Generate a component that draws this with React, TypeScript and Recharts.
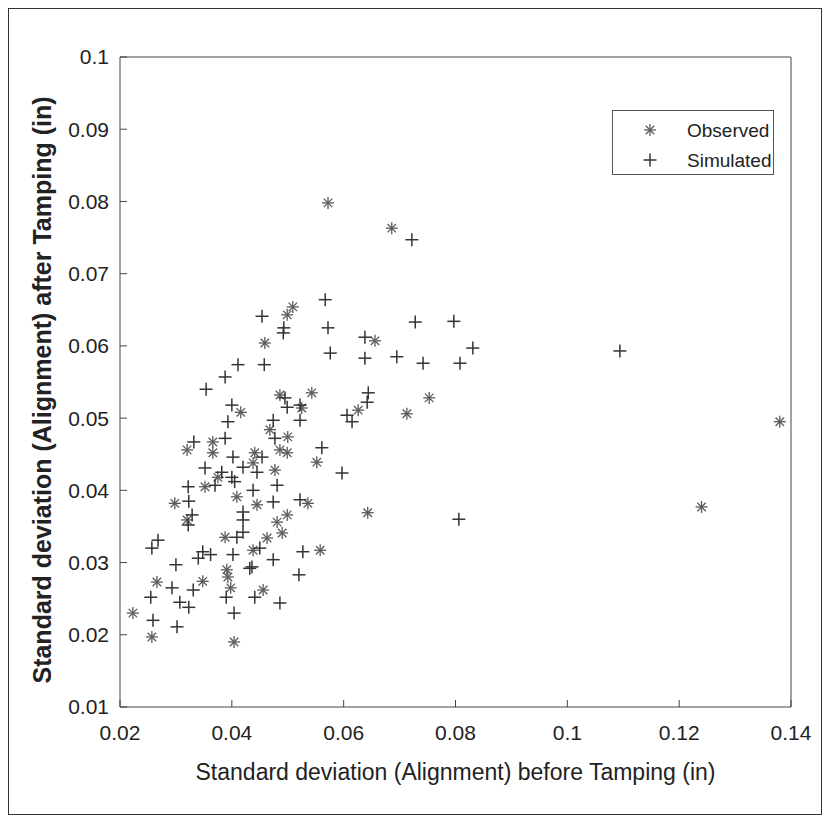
import React from 'react';
import { ScatterChart, Scatter, XAxis, YAxis } from 'recharts';

const observedX = [0.0223, 0.0257, 0.0266, 0.0298, 0.032, 0.032, 0.0348, 0.0352, 0.0366, 0.0366, 0.0375, 0.0388, 0.0391, 0.0393, 0.0398, 0.0404, 0.0409, 0.0416, 0.0438, 0.0463, 0.0456, 0.0445, 0.0441, 0.0438, 0.0477, 0.0468, 0.05, 0.0486, 0.0499, 0.0486, 0.0525, 0.0543, 0.0552, 0.0459, 0.0499, 0.0509, 0.0572, 0.0686, 0.0656, 0.0626, 0.0713, 0.0753, 0.0643, 0.0536, 0.0499, 0.0481, 0.049, 0.0558, 0.124, 0.138];
const observedY = [0.023, 0.0197, 0.0273, 0.0382, 0.0359, 0.0456, 0.0274, 0.0405, 0.0467, 0.0452, 0.0418, 0.0335, 0.029, 0.028, 0.0265, 0.019, 0.0391, 0.0508, 0.0317, 0.0334, 0.0262, 0.038, 0.0452, 0.0438, 0.0428, 0.0484, 0.0474, 0.0456, 0.0452, 0.0532, 0.0514, 0.0535, 0.0439, 0.0604, 0.0643, 0.0654, 0.0798, 0.0763, 0.0607, 0.0511, 0.0506, 0.0528, 0.0369, 0.0382, 0.0366, 0.0356, 0.0341, 0.0317, 0.0377, 0.0495];

const simulatedX = [0.0255, 0.0259, 0.0257, 0.0268, 0.0293, 0.03, 0.0302, 0.0307, 0.0323, 0.0331, 0.034, 0.0348, 0.0362, 0.0323, 0.0329, 0.0322, 0.0322, 0.0332, 0.0352, 0.0354, 0.037, 0.0382, 0.0388, 0.0388, 0.0393, 0.04, 0.04, 0.0405, 0.0402, 0.0411, 0.039, 0.0404, 0.0402, 0.0409, 0.042, 0.042, 0.042, 0.0436, 0.045, 0.0441, 0.0486, 0.0474, 0.0432, 0.0474, 0.0522, 0.0527, 0.052, 0.0438, 0.0445, 0.042, 0.0454, 0.0481, 0.0477, 0.0474, 0.0499, 0.0495, 0.0522, 0.0522, 0.0561, 0.0597, 0.0458, 0.0454, 0.0493, 0.0492, 0.0567, 0.0572, 0.0576, 0.0638, 0.0638, 0.0695, 0.0742, 0.0808, 0.0831, 0.0728, 0.0797, 0.0722, 0.1094, 0.0806, 0.0606, 0.0615, 0.0644, 0.0642];
const simulatedY = [0.0252, 0.022, 0.032, 0.0331, 0.0265, 0.0297, 0.0211, 0.0245, 0.0238, 0.0262, 0.0306, 0.0315, 0.0311, 0.0385, 0.0366, 0.0352, 0.0405, 0.0467, 0.0431, 0.054, 0.0407, 0.0425, 0.0472, 0.0557, 0.0495, 0.0518, 0.0418, 0.0412, 0.0446, 0.0574, 0.0252, 0.023, 0.0311, 0.0335, 0.0342, 0.0359, 0.037, 0.0294, 0.032, 0.0252, 0.0244, 0.0304, 0.0292, 0.0384, 0.0387, 0.0315, 0.0283, 0.04, 0.0425, 0.0432, 0.0446, 0.0407, 0.0472, 0.0497, 0.0515, 0.0528, 0.0518, 0.0497, 0.0459, 0.0424, 0.0574, 0.0641, 0.0625, 0.0618, 0.0664, 0.0625, 0.059, 0.0612, 0.0583, 0.0585, 0.0576, 0.0576, 0.0597, 0.0633, 0.0634, 0.0747, 0.0593, 0.036, 0.0504, 0.0495, 0.0535, 0.0522];

const xTicks = [0.02, 0.04, 0.06, 0.08, 0.1, 0.12, 0.14];
const yTicks = [0.01, 0.02, 0.03, 0.04, 0.05, 0.06, 0.07, 0.08, 0.09, 0.1];

const seriesNames = ['Observed', 'Simulated'];
const xTitle = 'Standard deviation (Alignment) before Tamping (in)';
const yTitle = 'Standard deviation (Alignment) after Tamping (in)';

const observedData = observedX.map((x, i) => ({ x, y: observedY[i] }));
const simulatedData = simulatedX.map((x, i) => ({ x, y: simulatedY[i] }));

const FONT = '"Liberation Sans", Arial, sans-serif';
const AXIS_COLOR = '#444';

const fmt = (v: number) => String(+v.toFixed(2));

const AsteriskShape = (props: any) => {
  const { cx, cy } = props;
  if (cx == null || cy == null) return <g />;
  const r = 6;
  const d = r * 0.707;
  return (
    <g stroke="#5a5a5a" strokeWidth={1.3}>
      <line x1={cx - r} y1={cy} x2={cx + r} y2={cy} />
      <line x1={cx} y1={cy - r} x2={cx} y2={cy + r} />
      <line x1={cx - d} y1={cy - d} x2={cx + d} y2={cy + d} />
      <line x1={cx - d} y1={cy + d} x2={cx + d} y2={cy - d} />
    </g>
  );
};

const PlusShape = (props: any) => {
  const { cx, cy } = props;
  if (cx == null || cy == null) return <g />;
  const r = 6.5;
  return (
    <g stroke="#333" strokeWidth={1.5}>
      <line x1={cx - r} y1={cy} x2={cx + r} y2={cy} />
      <line x1={cx} y1={cy - r} x2={cx} y2={cy + r} />
    </g>
  );
};

const EmptyShape = () => <g />;

const LegendBox = () => (
  <div
    style={{
      position: 'absolute',
      left: 603,
      top: 101,
      width: 162,
      height: 65,
      border: '1px solid #555',
      background: '#fff',
      boxSizing: 'border-box',
    }}
  >
    <svg width={160} height={63} style={{ position: 'absolute', left: 0, top: 0 }}>
      <AsteriskShape cx={37} cy={19} />
      <PlusShape cx={37} cy={49} />
      <text x={74} y={19} dominantBaseline="central" fontFamily={FONT} fontSize={19} fill="#222">{seriesNames[0]}</text>
      <text x={74} y={49} dominantBaseline="central" fontFamily={FONT} fontSize={19} fill="#222">{seriesNames[1]}</text>
    </svg>
  </div>
);

const YTitle = (props: any) => {
  const vb = props.viewBox || {};
  const cy = (vb.y || 0) + (vb.height || 0) / 2 + 8;
  const cx = 33;
  return (
    <text
      x={cx}
      y={cy}
      transform={`rotate(-90, ${cx}, ${cy})`}
      textAnchor="middle"
      dominantBaseline="central"
      fontFamily={FONT}
      fontSize={25}
      fontWeight="bold"
      fill="#222"
    >
      {yTitle}
    </text>
  );
};

const XTitle = (props: any) => {
  const vb = props.viewBox || {};
  const cx = (vb.x || 0) + (vb.width || 0) / 2;
  const cy = 763;
  return (
    <text x={cx} y={cy} textAnchor="middle" dominantBaseline="central" fontFamily={FONT} fontSize={23} fill="#222">
      {xTitle}
    </text>
  );
};

export default function App() {
  return (
    <div style={{ position: 'relative', width: 812, height: 805, border: '1px solid #333', background: '#fff' }}>
      <ScatterChart width={812} height={805} margin={{ top: 47, right: 29, bottom: 47, left: 0 }}>
        <XAxis
          dataKey="x"
          type="number"
          domain={[0.02, 0.14]}
          ticks={xTicks}
          tickFormatter={fmt}
          height={60}
          tickSize={-7}
          tickMargin={25}
          stroke={AXIS_COLOR}
          tick={{ fontFamily: FONT, fontSize: 21, fill: '#222' }}
          allowDataOverflow
          label={<XTitle />}
        />
        <XAxis
          xAxisId="top"
          dataKey="x"
          orientation="top"
          type="number"
          domain={[0.02, 0.14]}
          ticks={xTicks}
          height={1}
          tickSize={-7}
          tick={false}
          stroke={AXIS_COLOR}
          allowDataOverflow
        />
        <YAxis
          dataKey="y"
          type="number"
          domain={[0.01, 0.1]}
          ticks={yTicks}
          tickFormatter={fmt}
          width={111}
          tickSize={-7}
          tickMargin={18}
          stroke={AXIS_COLOR}
          tick={{ fontFamily: FONT, fontSize: 21, fill: '#222' }}
          allowDataOverflow
          label={<YTitle />}
        />
        <YAxis
          yAxisId="right"
          dataKey="y"
          orientation="right"
          type="number"
          domain={[0.01, 0.1]}
          ticks={yTicks}
          width={1}
          tickSize={-7}
          tick={false}
          stroke={AXIS_COLOR}
          allowDataOverflow
        />
        <Scatter name={seriesNames[0]} data={observedData} shape={<AsteriskShape />} isAnimationActive={false} />
        <Scatter name={seriesNames[1]} data={simulatedData} shape={<PlusShape />} isAnimationActive={false} />
        <Scatter
          name="frame"
          data={observedData}
          xAxisId="top"
          yAxisId="right"
          shape={<EmptyShape />}
          legendType="none"
          isAnimationActive={false}
        />
      </ScatterChart>
      <LegendBox />
    </div>
  );
}
